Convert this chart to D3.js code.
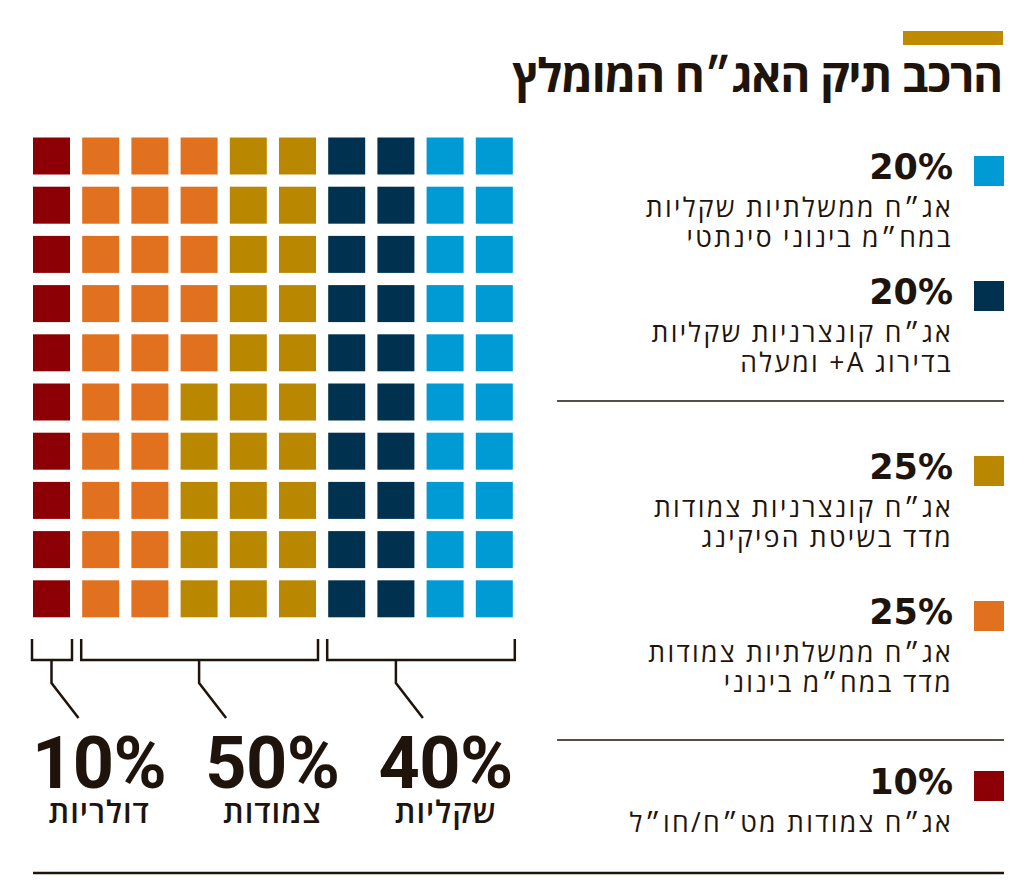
<!DOCTYPE html>
<html><head><meta charset="utf-8">
<script src="https://cdn.jsdelivr.net/npm/d3@7"></script>
<style>body{margin:0;background:#fff} svg{display:block}</style>
</head><body><svg id="chart" width="1024" height="882"></svg>
<script>
// ---------- data ----------
const title = "הרכב תיק האג״ח המומלץ";
const categories = ["dollar", "cpiGov", "cpiCorp", "shekelCorp", "shekelGov"];
const categoryCounts = [10, 25, 25, 20, 20];
const categoryColors = ["#8c0005", "#e1701f", "#ba8800", "#00324f", "#009bd4"];
const legendOrder = ["shekelGov", "shekelCorp", "cpiCorp", "cpiGov", "dollar"];
const legendPercents = ["20%", "20%", "25%", "25%", "10%"];
const legendLines = [
  ["אג״ח ממשלתיות שקליות", "במח״מ בינוני סינתטי"],
  ["אג״ח קונצרניות שקליות", "בדירוג A+ ומעלה"],
  ["אג״ח קונצרניות צמודות", "מדד בשיטת הפיקינג"],
  ["אג״ח ממשלתיות צמודות", "מדד במח״מ בינוני"],
  ["אג״ח צמודות מט״ח/חו״ל"]
];
const groupNames = ["דולריות", "צמודות", "שקליות"];
const groupValues = [10, 50, 40];

// ---------- layout ----------
const ink = "#1e140b";
const heb = "'Open Sans','Liberation Sans','DejaVu Sans',sans-serif";
const svg = d3.select("#chart");
const cols = 10, rows = 10;

const x = d3.scaleBand().domain(d3.range(cols)).range([33, 512.8]).paddingInner(0.248).paddingOuter(0);
const y = d3.scaleBand().domain(d3.range(rows)).range([137.5, 617.3]).paddingInner(0.248).paddingOuter(0);
const color = d3.scaleOrdinal().domain(categories).range(categoryColors);

// build cells, column-major fill
const cells = [];
categories.forEach((c, i) => { for (let k = 0; k < categoryCounts[i]; k++) cells.push(c); });
const cellData = cells.map((c, i) => ({ cat: c, col: Math.floor(i / rows), row: i % rows }));

svg.append("g").selectAll("rect").data(cellData).join("rect")
  .attr("x", d => x(d.col)).attr("y", d => y(d.row))
  .attr("width", x.bandwidth()).attr("height", y.bandwidth())
  .attr("fill", d => color(d.cat));

// title
svg.append("rect").attr("x", 903).attr("y", 31).attr("width", 100).attr("height", 14).attr("fill", "#be8a00");
svg.append("text").attr("x", 1002).attr("y", 92)
  .attr("direction", "rtl").attr("text-anchor", "start")
  .style("font-family", heb).style("font-weight", 700).style("font-size", "46px")
  .style("letter-spacing", "-1.2px")
  .attr("fill", ink).text(title);

// brackets
const bracketTop = 639, bracketBot = 660, stemBot = 683, diagBot = 718;
let startCol = 0;
const groups = groupValues.map((v, i) => {
  const n = v / rows;
  const g = { name: groupNames[i], value: v, start: startCol, end: startCol + n - 1 };
  startCol += n;
  return g;
});
const bg = svg.append("g").attr("fill", "none").attr("stroke", ink).attr("stroke-width", 2.5);
groups.forEach(g => {
  const l = x(g.start) - 1, r = x(g.end) + x.bandwidth() + 2;
  bg.append("path").attr("d", `M${l},${bracketTop}V${bracketBot}H${r}V${bracketTop}`);
  const sx = x(Math.floor((g.start + g.end) / 2)) + x.bandwidth() / 2;
  bg.append("path").attr("d", `M${sx},${bracketBot}V${stemBot}L${sx + 27},${diagBot}`);
});

// big group labels, laid out evenly between left and right edges
const bigG = svg.append("g");
const bigTexts = groups.map(g => bigG.append("text")
  .attr("y", 788)
  .style("font-family", "Roboto, 'DejaVu Sans', sans-serif").style("font-weight", 700)
  .style("font-size", "72px").style("letter-spacing", "-0.5px")
  .attr("fill", ink).text(d3.format(".0%")(g.value / 100)));
const widths = bigTexts.map(t => t.node().getComputedTextLength());
const left = x(0) - 1, right = x(cols - 1) + x.bandwidth();
const gap = (right - left - d3.sum(widths)) / (groups.length - 1);
let cx = left;
bigTexts.forEach((t, i) => {
  t.attr("x", cx);
  const center = cx + widths[i] / 2;
  bigG.append("text").attr("x", center).attr("y", 823).attr("text-anchor", "middle")
    .style("font-family", heb).style("font-weight", 600).style("font-size", "31px")
    .style("letter-spacing", "1px")
    .attr("fill", ink).text(groups[i].name);
  cx += widths[i] + gap;
});

// legend
const legendTop = [156, 281, 456, 601, 771];
const lg = svg.append("g");
legendOrder.forEach((c, i) => {
  const t = legendTop[i];
  lg.append("rect").attr("x", 974).attr("y", t).attr("width", 30).attr("height", 30).attr("fill", color(c));
  lg.append("text").attr("x", 953).attr("y", t + 23).attr("text-anchor", "end")
    .style("font-family", "'DejaVu Sans', sans-serif").style("font-weight", 700).style("font-size", "35px")
    .attr("fill", ink).text(legendPercents[i]);
  legendLines[i].forEach((line, j) => {
    lg.append("text").attr("x", 953).attr("y", t + 61 + j * 30)
      .attr("direction", "rtl").attr("text-anchor", "start")
      .style("font-family", heb).style("font-size", "26.5px")
      .style("letter-spacing", "2.3px")
      .attr("fill", ink).text(line);
  });
});

// separators
const sepY = [401, 740];
svg.append("g").selectAll("line").data(sepY).join("line")
  .attr("x1", 557).attr("x2", 1004).attr("y1", d => d).attr("y2", d => d)
  .attr("stroke", ink).attr("stroke-width", 1.5);
svg.append("line").attr("x1", 33).attr("x2", 1004).attr("y1", 873).attr("y2", 873)
  .attr("stroke", ink).attr("stroke-width", 2.5);
</script></body></html>
